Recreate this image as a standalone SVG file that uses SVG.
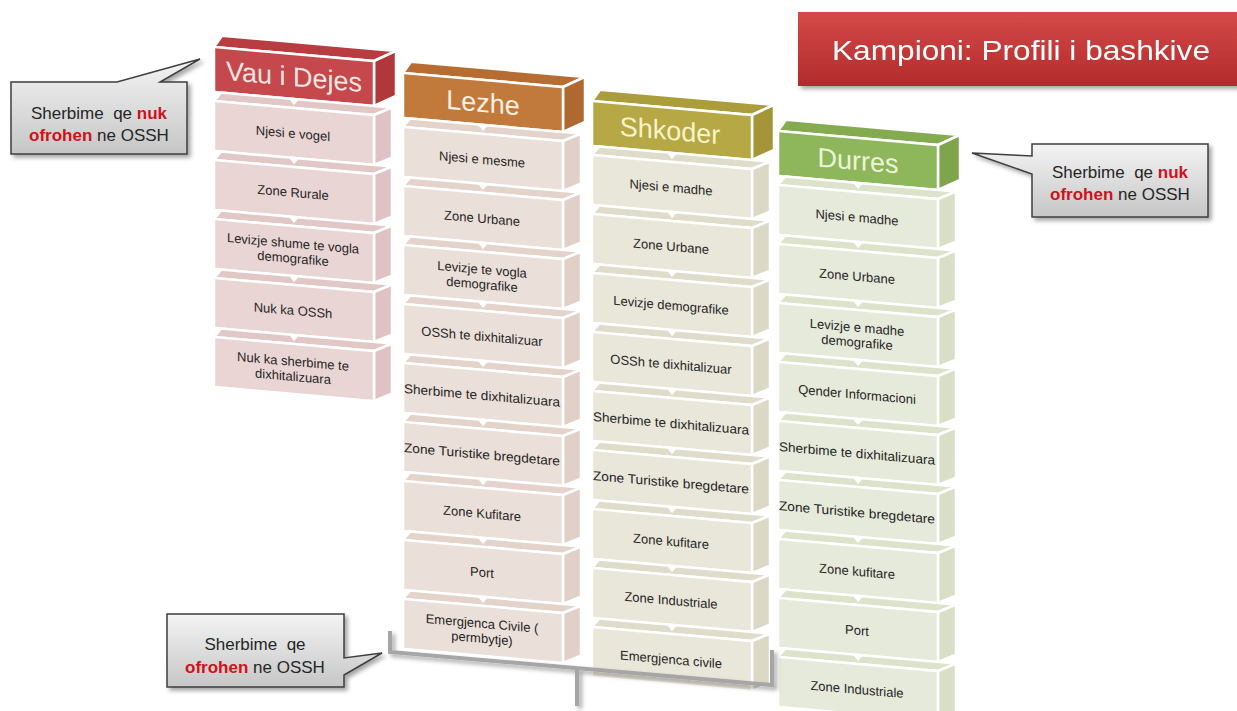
<svg xmlns="http://www.w3.org/2000/svg" width="1237" height="711" viewBox="0 0 1237 711">
<defs>
<style>
.w{stroke:#fff;stroke-width:2.5;stroke-linejoin:round}
.it{font-family:"Liberation Sans",Arial,sans-serif;font-size:13px;fill:#262626;text-anchor:middle}
.hd{font-family:"Liberation Sans",Arial,sans-serif;font-size:27px;text-anchor:middle}
.ct{font-family:"Liberation Sans",Arial,sans-serif;font-size:17px;fill:#262626;text-anchor:middle;white-space:pre}
.red{fill:#d0101a;font-weight:bold}
.cb{fill:url(#gray);stroke:#3f3f3f;stroke-width:1.5;filter:url(#sh)}
.chev{fill:#fff}
.a1f{fill:#ead5d5}.a1t{fill:#e2c7c7}.a1s{fill:#dfc3c4}
.a2f{fill:#ebdfd9}.a2t{fill:#e3d3cb}.a2s{fill:#e0d0c8}
.a3f{fill:#e9e6da}.a3t{fill:#e0dccb}.a3s{fill:#dcd8c6}
.a4f{fill:#e6eada}.a4t{fill:#dde3ca}.a4s{fill:#d9dfc6}
</style>
<linearGradient id="gray" x1="0" y1="0" x2="0" y2="1"><stop offset="0" stop-color="#f4f4f4"/><stop offset="1" stop-color="#c6c6c6"/></linearGradient>
<linearGradient id="tred" x1="0" y1="0" x2="0" y2="1"><stop offset="0" stop-color="#d44a48"/><stop offset="1" stop-color="#b32a2c"/></linearGradient>
<filter id="sh" x="-10%" y="-10%" width="130%" height="140%"><feDropShadow dx="3" dy="3" stdDeviation="2" flood-color="#000" flood-opacity="0.35"/></filter>
<g id="item1"><polygon class="w a1t" points="0,0 7,-9 178,-9 160,0"/><polygon class="w a1s" points="160,0 178,-9 178,41 160,50"/><rect class="w a1f" x="0" y="0" width="160" height="50"/></g>
<g id="item2"><polygon class="w a2t" points="0,0 7,-9 178,-9 160,0"/><polygon class="w a2s" points="160,0 178,-9 178,41 160,50"/><rect class="w a2f" x="0" y="0" width="160" height="50"/></g>
<g id="item3"><polygon class="w a3t" points="0,0 7,-9 178,-9 160,0"/><polygon class="w a3s" points="160,0 178,-9 178,41 160,50"/><rect class="w a3f" x="0" y="0" width="160" height="50"/></g>
<g id="item4"><polygon class="w a4t" points="0,0 7,-9 178,-9 160,0"/><polygon class="w a4s" points="160,0 178,-9 178,41 160,50"/><rect class="w a4f" x="0" y="0" width="160" height="50"/></g>
<polygon id="chev" class="chev" points="74,-10 86,-10 80,-3"/>
</defs>

<rect width="1237" height="711" fill="#fff"/>

<g id="title" filter="url(#sh)">
<rect x="798" y="12" width="439" height="74" fill="url(#tred)"/>
<text x="1021" y="60" font-family="'Liberation Sans',Arial,sans-serif" font-size="28" fill="#fff" text-anchor="middle" textLength="378" lengthAdjust="spacingAndGlyphs">Kampioni: Profili i bashkive</text>
</g>

<!-- Column 1: Vau i Dejes -->
<g id="col-vau-i-dejes" transform="translate(214,47) skewY(5)">
<g id="vau-header"><polygon class="w" fill="#b93c40" points="0,0 8,-12 182,-12 160,0"/><polygon class="w" fill="#b0383b" points="160,0 182,-12 182,33 160,45"/><rect class="w" fill="#c4484c" x="0" y="0" width="160" height="45"/><text class="hd" x="80" y="32" fill="#fde6e2">Vau i Dejes</text></g>
<g id="vau-1" transform="translate(0,54)"><use href="#item1"/><text class="it" x="79" y="30">Njesi e vogel</text></g>
<g id="vau-2" transform="translate(0,113)"><use href="#item1"/><text class="it" x="79" y="30">Zone Rurale</text></g>
<g id="vau-3" transform="translate(0,172)"><use href="#item1"/><text class="it" x="79" y="22">Levizje shume te vogla</text><text class="it" x="79" y="37">demografike</text></g>
<g id="vau-4" transform="translate(0,231)"><use href="#item1"/><text class="it" x="79" y="30">Nuk ka OSSh</text></g>
<g id="vau-5" transform="translate(0,290)"><use href="#item1"/><text class="it" x="79" y="22">Nuk ka sherbime te</text><text class="it" x="79" y="37">dixhitalizuara</text></g>
</g>

<!-- Column 2: Lezhe -->
<g id="col-lezhe" transform="translate(403,73) skewY(5)">
<g id="lezhe-header"><polygon class="w" fill="#b76d32" points="0,0 8,-12 182,-12 160,0"/><polygon class="w" fill="#ae6830" points="160,0 182,-12 182,33 160,45"/><rect class="w" fill="#c27a3c" x="0" y="0" width="160" height="45"/><text class="hd" x="80" y="32" fill="#fdf1e4">Lezhe</text></g>
<g id="lezhe-1" transform="translate(0,54)"><use href="#item2"/><text class="it" x="79" y="30">Njesi e mesme</text></g>
<g id="lezhe-2" transform="translate(0,113)"><use href="#item2"/><text class="it" x="79" y="30">Zone Urbane</text></g>
<g id="lezhe-3" transform="translate(0,172)"><use href="#item2"/><text class="it" x="79" y="22">Levizje te vogla</text><text class="it" x="79" y="37">demografike</text></g>
<g id="lezhe-4" transform="translate(0,231)"><use href="#item2"/><text class="it" x="79" y="30">OSSh te dixhitalizuar</text></g>
<g id="lezhe-5" transform="translate(0,290)"><use href="#item2"/><text class="it" x="79" y="30" textLength="156" lengthAdjust="spacingAndGlyphs">Sherbime te dixhitalizuara</text></g>
<g id="lezhe-6" transform="translate(0,349)"><use href="#item2"/><text class="it" x="79" y="30" textLength="156" lengthAdjust="spacingAndGlyphs">Zone Turistike bregdetare</text></g>
<g id="lezhe-7" transform="translate(0,408)"><use href="#item2"/><text class="it" x="79" y="30">Zone Kufitare</text></g>
<g id="lezhe-8" transform="translate(0,467)"><use href="#item2"/><text class="it" x="79" y="30">Port</text></g>
<g id="lezhe-9" transform="translate(0,526)"><use href="#item2"/><text class="it" x="79" y="22">Emergjenca Civile (</text><text class="it" x="79" y="37">permbytje)</text></g>
</g>

<!-- Column 3: Shkoder -->
<g id="col-shkoder" transform="translate(592,101) skewY(5)">
<g id="shkoder-header"><polygon class="w" fill="#ab9d3b" points="0,0 8,-12 182,-12 160,0"/><polygon class="w" fill="#a49638" points="160,0 182,-12 182,33 160,45"/><rect class="w" fill="#b6a845" x="0" y="0" width="160" height="45"/><text class="hd" x="78" y="32" fill="#f8f3c8">Shkoder</text></g>
<g id="shkoder-1" transform="translate(0,54)"><use href="#item3"/><text class="it" x="79" y="30">Njesi e madhe</text></g>
<g id="shkoder-2" transform="translate(0,113)"><use href="#item3"/><text class="it" x="79" y="30">Zone Urbane</text></g>
<g id="shkoder-3" transform="translate(0,172)"><use href="#item3"/><text class="it" x="79" y="30">Levizje demografike</text></g>
<g id="shkoder-4" transform="translate(0,231)"><use href="#item3"/><text class="it" x="79" y="30">OSSh te dixhitalizuar</text></g>
<g id="shkoder-5" transform="translate(0,290)"><use href="#item3"/><text class="it" x="79" y="30" textLength="156" lengthAdjust="spacingAndGlyphs">Sherbime te dixhitalizuara</text></g>
<g id="shkoder-6" transform="translate(0,349)"><use href="#item3"/><text class="it" x="79" y="30" textLength="156" lengthAdjust="spacingAndGlyphs">Zone Turistike bregdetare</text></g>
<g id="shkoder-7" transform="translate(0,408)"><use href="#item3"/><text class="it" x="79" y="30">Zone kufitare</text></g>
<g id="shkoder-8" transform="translate(0,467)"><use href="#item3"/><text class="it" x="79" y="30">Zone Industriale</text></g>
<g id="shkoder-9" transform="translate(0,526)"><use href="#item3"/><text class="it" x="79" y="30">Emergjenca civile</text></g>
</g>

<!-- Column 4: Durres -->
<g id="col-durres" transform="translate(778,131) skewY(5)">
<g id="durres-header"><polygon class="w" fill="#84ab50" points="0,0 8,-12 182,-12 160,0"/><polygon class="w" fill="#7ea44c" points="160,0 182,-12 182,33 160,45"/><rect class="w" fill="#8eb65a" x="0" y="0" width="160" height="45"/><text class="hd" x="80" y="32" fill="#eaf5d8">Durres</text></g>
<g id="durres-1" transform="translate(0,54)"><use href="#item4"/><text class="it" x="79" y="30">Njesi e madhe</text></g>
<g id="durres-2" transform="translate(0,113)"><use href="#item4"/><text class="it" x="79" y="30">Zone Urbane</text></g>
<g id="durres-3" transform="translate(0,172)"><use href="#item4"/><text class="it" x="79" y="22">Levizje e madhe</text><text class="it" x="79" y="37">demografike</text></g>
<g id="durres-4" transform="translate(0,231)"><use href="#item4"/><text class="it" x="79" y="30">Qender Informacioni</text></g>
<g id="durres-5" transform="translate(0,290)"><use href="#item4"/><text class="it" x="79" y="30" textLength="156" lengthAdjust="spacingAndGlyphs">Sherbime te dixhitalizuara</text></g>
<g id="durres-6" transform="translate(0,349)"><use href="#item4"/><text class="it" x="79" y="30" textLength="156" lengthAdjust="spacingAndGlyphs">Zone Turistike bregdetare</text></g>
<g id="durres-7" transform="translate(0,408)"><use href="#item4"/><text class="it" x="79" y="30">Zone kufitare</text></g>
<g id="durres-8" transform="translate(0,467)"><use href="#item4"/><text class="it" x="79" y="30">Port</text></g>
<g id="durres-9" transform="translate(0,526)"><use href="#item4"/><text class="it" x="79" y="30">Zone Industriale</text></g>
</g>

<!-- Connectors: small chevrons between stacked boxes, and bracket -->
<g id="connectors">
<g transform="translate(214,47) skewY(5)"><use href="#chev" y="54"/><use href="#chev" y="113"/><use href="#chev" y="172"/><use href="#chev" y="231"/><use href="#chev" y="290"/></g>
<g transform="translate(403,73) skewY(5)"><use href="#chev" y="54"/><use href="#chev" y="113"/><use href="#chev" y="172"/><use href="#chev" y="231"/><use href="#chev" y="290"/><use href="#chev" y="349"/><use href="#chev" y="408"/><use href="#chev" y="467"/><use href="#chev" y="526"/></g>
<g transform="translate(592,101) skewY(5)"><use href="#chev" y="54"/><use href="#chev" y="113"/><use href="#chev" y="172"/><use href="#chev" y="231"/><use href="#chev" y="290"/><use href="#chev" y="349"/><use href="#chev" y="408"/><use href="#chev" y="467"/><use href="#chev" y="526"/></g>
<g transform="translate(778,131) skewY(5)"><use href="#chev" y="54"/><use href="#chev" y="113"/><use href="#chev" y="172"/><use href="#chev" y="231"/><use href="#chev" y="290"/><use href="#chev" y="349"/><use href="#chev" y="408"/><use href="#chev" y="467"/><use href="#chev" y="526"/></g>
<path id="bracket" d="M390,631 V652 L772,685 V650 M577,668 V706" fill="none" stroke="#a6a6a6" stroke-width="4" filter="url(#sh)"/>
</g>

<!-- Callouts -->
<g id="callout-left">
<path class="cb" d="M11,82 H117 L200,59 L160,82 H187 V154 H11 Z"/>
<text class="ct" x="99" y="119" xml:space="preserve">Sherbime  qe <tspan class="red">nuk</tspan></text>
<text class="ct" x="99" y="141"><tspan class="red">ofrohen</tspan> ne OSSH</text>
</g>
<g id="callout-right">
<path class="cb" d="M1032,144 H1208 V217 H1032 V174 L972,153 L1032,156 Z"/>
<text class="ct" x="1120" y="178" xml:space="preserve">Sherbime  qe <tspan class="red">nuk</tspan></text>
<text class="ct" x="1120" y="200"><tspan class="red">ofrohen</tspan> ne OSSH</text>
</g>
<g id="callout-bottom">
<path class="cb" d="M167,614 H344 V658 L382,653 L344,675 V687 H167 Z"/>
<text class="ct" x="255" y="650" xml:space="preserve">Sherbime  qe</text>
<text class="ct" x="255" y="673"><tspan class="red">ofrohen</tspan> ne OSSH</text>
</g>
</svg>
